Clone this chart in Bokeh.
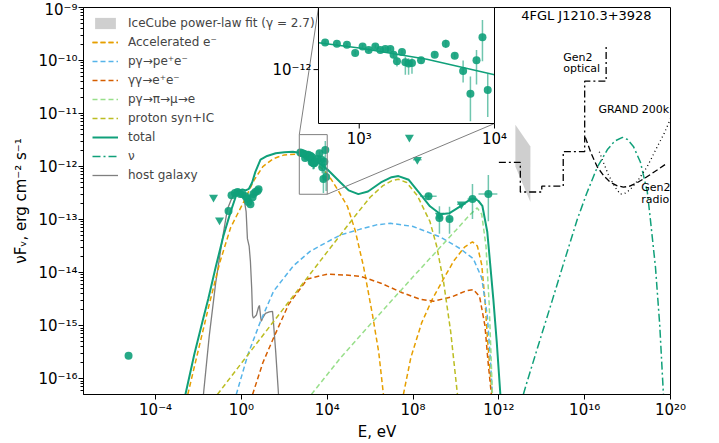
import numpy as np
from bokeh.plotting import figure
from bokeh.models import (Range1d, LogScale, FixedTicker, CustomJSTickFormatter,
                          Legend, LegendItem)
from bokeh.embed import file_html
from bokeh.resources import INLINE
from bokeh.core.properties import value

# ---------------- data: log10(E / eV), log10(nuFnu / erg cm^-2 s^-1) ----------------
TOTAL_LOGE = [-2.61, -2.2, -1.8, -1.54, -1.2, -0.84, -0.5, -0.25, -0.1, 0.05, 0.2, 0.35, 0.5, 0.65,
              0.89, 1.2, 1.6, 2.0, 2.4, 2.7, 3.0, 3.5, 4.0, 4.62, 5.0, 5.45, 5.9, 6.5, 7.0, 7.32,
              7.8, 8.3, 8.79, 9.28, 9.7, 10.2, 10.67, 10.85, 11.05, 11.23, 11.46, 11.74, 11.9, 12.07]
TOTAL_LOGF = [-16.3, -15.55, -14.9, -14.49, -13.9, -13.31, -12.85, -12.55, -12.45, -12.43, -12.45,
              -12.42, -12.3, -12.1, -11.87, -11.8, -11.75, -11.73, -11.72, -11.74, -11.79, -11.9,
              -12.05, -12.3, -12.45, -12.52, -12.47, -12.3, -12.2, -12.18, -12.25, -12.5, -12.75,
              -12.9, -12.88, -12.75, -12.62, -12.6, -12.65, -12.74, -13.23, -14.49, -15.3, -16.3]

SYN_E_LOGE = [-2.5, -2.0, -1.5, -1.0, -0.5, 0.1, 0.6, 1.0, 1.5, 2.0, 2.5, 3.0, 3.5, 3.87, 4.2,
              4.52, 4.94, 5.3, 5.7, 6.11, 6.4, 6.62]
SYN_E_LOGF = [-16.3, -15.45, -14.6, -13.8, -13.15, -12.67, -12.25, -12.0, -11.85, -11.78, -11.77,
              -11.83, -11.95, -12.08, -12.25, -12.46, -12.75, -13.2, -13.9, -14.8, -15.5, -16.3]
IC_E_LOGE = [7.55, 7.9, 8.4, 8.9, 9.42, 9.9, 10.4, 10.77, 11.0, 11.2, 11.35, 11.46, 11.58, 11.68]
IC_E_LOGF = [-16.3, -15.6, -14.95, -14.5, -14.12, -13.78, -13.52, -13.42, -13.5, -13.85, -14.5,
             -15.2, -15.8, -16.3]

BH_LOGE = [-0.24, 0.3, 0.89, 1.5, 2.43, 3.2, 4.01, 4.62, 5.55, 6.3, 6.95, 8.0, 9.28, 10.2, 10.81,
           11.2, 11.46, 11.6, 11.7]
BH_LOGF = [-16.3, -15.55, -14.92, -14.35, -13.87, -13.6, -13.42, -13.29, -13.18, -13.1, -13.07,
           -13.13, -13.33, -13.55, -13.74, -14.1, -14.81, -15.6, -16.3]

GG_LOGE = [0.52, 1.0, 1.49, 2.2, 3.08, 4.0, 5.0, 5.55, 6.5, 7.5, 8.3, 8.95, 9.8, 10.5, 10.81, 11.1,
           11.35, 11.5, 11.65]
GG_LOGF = [-16.3, -15.7, -15.24, -14.6, -14.12, -14.03, -14.05, -14.07, -14.2, -14.38, -14.5,
           -14.54, -14.46, -14.34, -14.32, -14.45, -15.0, -15.7, -16.3]

PI_LOGE = [3.26, 4.62, 6.0, 8.0, 10.0, 10.6, 10.99, 11.2, 11.4, 11.55, 11.7]
PI_LOGF = [-16.3, -15.61, -14.98, -14.08, -13.2, -12.93, -12.78, -12.9, -13.5, -14.6, -16.3]

P_LOGE = [-1.12, 0.0, 2.0, 4.0, 5.4, 6.0, 6.6, 7.0, 7.32, 7.7, 8.2, 8.79, 9.1, 9.42, 9.75, 10.07]
P_LOGF = [-16.3, -15.71, -14.66, -13.61, -12.88, -12.58, -12.36, -12.27, -12.24, -12.3, -12.55,
          -13.04, -13.5, -14.17, -15.1, -16.3]

NU_LOGE = [13.14, 13.33, 14.0, 14.5, 15.0, 15.66, 16.1, 16.59, 17.06, 17.4, 17.76, 18.0, 18.27,
           18.6, 18.92, 19.06, 19.3, 19.5, 19.67]
NU_LOGF = [-16.3, -16.04, -15.16, -14.51, -13.85, -12.99, -12.5, -12.01, -11.68, -11.52, -11.45,
           -11.49, -11.62, -11.92, -12.48, -12.99, -13.9, -15.0, -16.3]

HOST_LOGE = [-1.77, -1.5, -1.2, -0.9, -0.65, -0.45, -0.3, -0.14, 0.0, 0.12, 0.22, 0.28, 0.36, 0.42,
             0.48, 0.52, 0.56, 0.70, 0.80, 0.84, 0.90, 0.93, 1.0, 1.12, 1.3, 1.45, 1.49, 1.6, 1.73]
HOST_LOGF = [-16.3, -15.2, -14.2, -13.4, -12.8, -12.6, -12.5, -12.43, -12.48, -12.6, -12.85,
             -13.36, -13.5, -13.79, -14.3, -14.81, -14.86, -14.8, -14.65, -14.62, -14.85, -14.92,
             -14.85, -14.77, -14.74, -14.73, -14.92, -15.5, -16.3]

ICECUBE_LOGE = [12.77, 13.47]
ICECUBE_UPPER_LOGF = [-11.21, -11.62]
ICECUBE_LOWER_LOGF = [-12.0, -12.67]

GEN2_OPT_EDGES_LOGE = [12, 13, 14, 15, 16, 17]
GEN2_OPT_LOGF = [-11.92, -12.48, -12.37, -11.72, -10.39]
GEN2_OPT_END_LOGF = -9.71

GEN2_RAD_LOGE = [16.03, 16.3, 16.59, 16.9, 17.2, 17.5, 17.8, 18.1, 18.46, 18.8, 19.06, 19.4, 19.76]
GEN2_RAD_LOGF = [-11.45, -11.75, -12.01, -12.18, -12.3, -12.36, -12.39, -12.37, -12.3, -12.22,
                 -12.15, -12.06, -11.96]

GRAND_LOGE = [16.68, 16.9, 17.1, 17.4, 17.66, 17.9, 18.13, 18.5, 18.92, 19.39, 19.7, 20.0]
GRAND_LOGF = [-11.72, -11.95, -12.15, -12.38, -12.52, -12.5, -12.43, -12.25, -12.0, -11.62,
              -11.38, -11.1]

# measurements
RADIO_LOGE = [-5.26]
RADIO_LOGF = [-15.57]

OPT_LOGE = [-0.60, -0.46, -0.30, -0.18, -0.05, 0.05, 0.19, 0.28, 0.33, 0.42, 0.52, 0.56, 0.65,
            0.75, 0.80]
OPT_LOGF = [-12.84, -12.54, -12.50, -12.48, -12.52, -12.52, -12.56, -12.61, -12.67, -12.71,
            -12.58, -12.52, -12.48, -12.46, -12.43]

XR_LOGE = [2.748, 2.835, 2.909, 2.970, 3.025, 3.07, 3.119, 3.156, 3.193, 3.23, 3.254, 3.279, 3.316,
           3.341, 3.365, 3.39, 3.457, 3.558, 3.64, 3.706, 3.768, 3.822, 3.867, 3.911, 3.95]
XR_LOGF = [-11.737, -11.75, -11.76, -11.84, -11.776, -11.81, -11.776, -11.81, -11.80, -11.80,
           -11.856, -11.92, -11.83, -11.93, -11.94, -11.936, -11.91, -11.856, -11.75, -11.865,
           -12.013, -12.234, -11.91, -11.686, -12.199]
XR_LO = [-11.757, -11.77, -11.78, -11.86, -11.796, -11.83, -11.796, -11.83, -11.82, -11.82, -11.89,
         -11.97, -11.85, -12.05, -12.05, -12.04, -11.94, -11.88, -11.79, -11.89, -12.125, -12.50,
         -12.144, -11.92, -12.46]
XR_HI = [-11.717, -11.73, -11.74, -11.82, -11.756, -11.79, -11.756, -11.79, -11.78, -11.78, -11.83,
         -11.875, -11.81, -11.875, -11.89, -11.89, -11.88, -11.83, -11.71, -11.84, -11.913, -12.067,
         -11.81, -11.52, -12.04]

GAM_LOGE = [8.72, 9.23, 9.70, 10.77, 11.51]
GAM_LOGF = [-12.56, -12.97, -12.99, -12.61, -12.52]
GAM_LO = [-12.62, -13.27, -13.27, -12.99, -13.03]
GAM_HI = [-12.50, -12.75, -12.76, -12.33, -12.16]
GAM_XLO = [8.33, 9.05, 9.55, 10.54, 11.05]
GAM_XHI = [9.1, 9.4, 9.85, 11.0, 11.93]

UL_LOGE = [-1.30, -1.02, 7.83, 8.20, 9.23, 10.25]
UL_LOGF = [-12.58, -13.01, -11.45, -11.87, -12.92, -12.71]
UL_XLO = [-1.30, -1.02, 7.83, 8.0, 9.23, 10.05]
UL_XHI = [-1.30, -1.02, 7.83, 8.4, 9.23, 10.45]

# axes limits (log10)
X_LIM = (-7.36, 20.0)
Y_LIM = (-16.30, -9.0)
INSET_X_LIM = (np.log10(500.0), 4.0)
INSET_Y_LIM = (np.log10(3e-13), np.log10(4e-12))

# ---------------- styling ----------------
TEAL = "#10A07A"
ORANGE = "#E69F00"
SKY = "#56B4E9"
VERM = "#D55E00"
LGREEN = "#98DF8A"
OLIVE = "#BCBD22"
GRAY = "#7F7F7F"
FONT = "DejaVu Sans"

BORDER_L, BORDER_R, BORDER_T, BORDER_B = 83, 45, 7, 49
FRAME_W, FRAME_H = 587, 387
# inset rectangle inside the frame, in pixels from frame left / top
INSET_L, INSET_R, INSET_T, INSET_B = 235, 411, 0, 116


def P(a):
    return 10 ** np.asarray(a, dtype=float)


p = figure(width=BORDER_L + FRAME_W + BORDER_R, height=BORDER_T + FRAME_H + BORDER_B,
           x_axis_type="log", y_axis_type="log",
           x_range=Range1d(10 ** X_LIM[0], 10 ** X_LIM[1]),
           y_range=Range1d(10 ** Y_LIM[0], 10 ** Y_LIM[1]),
           output_backend="svg", toolbar_location=None,
           min_border_left=BORDER_L, min_border_right=BORDER_R,
           min_border_top=BORDER_T, min_border_bottom=BORDER_B)
p.xgrid.visible = False
p.ygrid.visible = False
p.outline_line_color = "black"
p.outline_line_alpha = 1.0
p.background_fill_color = "white"

# extra ranges for the inset (so that the inset limits fall onto the inset rectangle)
ixpp = (INSET_X_LIM[1] - INSET_X_LIM[0]) / (INSET_R - INSET_L)
iypp = (INSET_Y_LIM[1] - INSET_Y_LIM[0]) / (INSET_B - INSET_T)
ix0 = INSET_X_LIM[0] - INSET_L * ixpp
ix1 = INSET_X_LIM[1] + (FRAME_W - INSET_R) * ixpp
iy1 = INSET_Y_LIM[1] + INSET_T * iypp
iy0 = INSET_Y_LIM[0] - (FRAME_H - INSET_B) * iypp
p.extra_x_ranges = {"ix": Range1d(10 ** ix0, 10 ** ix1)}
p.extra_y_ranges = {"iy": Range1d(10 ** iy0, 10 ** iy1)}
p.extra_x_scales = {"ix": LogScale()}
p.extra_y_scales = {"iy": LogScale()}


def inset_to_main(lx, ly):
    fx = (lx - ix0) / (ix1 - ix0)
    fy = (ly - iy0) / (iy1 - iy0)
    return X_LIM[0] + fx * (X_LIM[1] - X_LIM[0]), Y_LIM[0] + fy * (Y_LIM[1] - Y_LIM[0])


sup_js = """
const s = {'-':'\u207b','0':'\u2070','1':'\u00b9','2':'\u00b2','3':'\u00b3','4':'\u2074',
           '5':'\u2075','6':'\u2076','7':'\u2077','8':'\u2078','9':'\u2079'};
const e = Math.round(Math.log10(tick));
return '10' + String(e).split('').map(c => s[c]).join('');
"""
fmt = CustomJSTickFormatter(code=sup_js)

p.xaxis.ticker = FixedTicker(ticks=[10.0 ** k for k in range(-4, 21, 4)], minor_ticks=[])
p.yaxis.ticker = FixedTicker(ticks=[10.0 ** k for k in range(-16, -8)],
                             minor_ticks=[m * 10.0 ** k for k in range(-17, -9) for m in range(2, 10)])
for ax in (p.xaxis, p.yaxis):
    ax.formatter = fmt
    ax.major_label_text_font = FONT
    ax.major_label_text_font_size = "15px"
    ax.major_label_text_color = "black"
    ax.axis_label_text_font = FONT
    ax.axis_label_text_font_size = "15px"
    ax.axis_label_text_font_style = "normal"
    ax.axis_label_text_color = "black"
    ax.axis_line_color = "black"
    ax.major_tick_line_color = "black"
    ax.minor_tick_line_color = "black"
    ax.major_tick_in = 0
    ax.major_tick_out = 5
    ax.minor_tick_in = 0
    ax.minor_tick_out = 3
    ax.major_label_standoff = 1
    ax.axis_label_standoff = 1
p.xaxis.axis_label = "E, eV"
p.yaxis.axis_label = "\u03bdF\u1d65, erg cm\u207b\u00b2 s\u207b\u00b9"
p.yaxis.axis_label_standoff = 5

# ---------------- model curves ----------------
r_ice = p.varea(x=P(ICECUBE_LOGE), y1=P(ICECUBE_LOWER_LOGF), y2=P(ICECUBE_UPPER_LOGF),
                fill_color="#BBBBBB", fill_alpha=0.7)

host_r = p.line(P(HOST_LOGE), P(HOST_LOGF), line_color=GRAY, line_width=1.3)
dash = "5 3"
syn_r = p.line(P(SYN_E_LOGE), P(SYN_E_LOGF), line_color=ORANGE, line_width=1.5, line_dash=dash)
ic_r = p.line(P(IC_E_LOGE), P(IC_E_LOGF), line_color=ORANGE, line_width=1.5, line_dash=dash)
bh_r = p.line(P(BH_LOGE), P(BH_LOGF), line_color=SKY, line_width=1.5, line_dash=dash)
gg_r = p.line(P(GG_LOGE), P(GG_LOGF), line_color=VERM, line_width=1.5, line_dash=dash)
pi_r = p.line(P(PI_LOGE), P(PI_LOGF), line_color=LGREEN, line_width=1.5, line_dash=dash)
pr_r = p.line(P(P_LOGE), P(P_LOGF), line_color=OLIVE, line_width=1.5, line_dash=dash)
tot_r = p.line(P(TOTAL_LOGE), P(TOTAL_LOGF), line_color=TEAL, line_width=2)
nu_r = p.line(P(NU_LOGE), P(NU_LOGF), line_color=TEAL, line_width=1.5, line_dash="8 3 2 3")

# Gen2 optical step curve
sx, sy = [], []
for i, v in enumerate(GEN2_OPT_LOGF):
    sx += [GEN2_OPT_EDGES_LOGE[i], GEN2_OPT_EDGES_LOGE[i + 1]]
    sy += [v, v]
sx.append(GEN2_OPT_EDGES_LOGE[-1])
sy.append(GEN2_OPT_END_LOGF)
p.line(P(sx), P(sy), line_color="black", line_width=1.3, line_dash="7 3 2 3")
p.line(P(GEN2_RAD_LOGE), P(GEN2_RAD_LOGF), line_color="black", line_width=1.3, line_dash="6 3")
p.line(P(GRAND_LOGE), P(GRAND_LOGF), line_color="black", line_width=1.3, line_dash="1 3")


# ---------------- measurements ----------------
def draw_points(inset=False):
    kw = dict(x_range_name="ix", y_range_name="iy") if inset else {}
    p.segment(P(XR_LOGE), P(XR_LO), P(XR_LOGE), P(XR_HI), line_color=TEAL, line_alpha=0.6,
              line_width=1.5, **kw)
    p.scatter(P(XR_LOGE), P(XR_LOGF), size=8, marker="circle", fill_color=TEAL, fill_alpha=0.9,
              line_color=None, **kw)


p.segment(P(GAM_LOGE), P(GAM_LO), P(GAM_LOGE), P(GAM_HI), line_color=TEAL, line_alpha=0.6, line_width=1.5)
p.segment(P(GAM_XLO), P(GAM_LOGF), P(GAM_XHI), P(GAM_LOGF), line_color=TEAL, line_alpha=0.6, line_width=1.5)
p.segment(P(UL_XLO), P(UL_LOGF), P(UL_XHI), P(UL_LOGF), line_color=TEAL, line_alpha=0.6, line_width=1.5)
p.scatter(P(RADIO_LOGE + OPT_LOGE + GAM_LOGE), P(RADIO_LOGF + OPT_LOGF + GAM_LOGF), size=8,
          marker="circle", fill_color=TEAL, fill_alpha=0.9, line_color=None)
p.scatter(P(UL_LOGE), P(UL_LOGF), size=9, marker="inverted_triangle", fill_color=TEAL,
          fill_alpha=0.9, line_color=None)
draw_points()

# zoom box and connectors
p.quad(left=10 ** INSET_X_LIM[0], right=10 ** INSET_X_LIM[1], bottom=10 ** INSET_Y_LIM[0],
       top=10 ** INSET_Y_LIM[1], fill_alpha=0, line_color=GRAY, line_width=1)
c1 = inset_to_main(INSET_X_LIM[0], INSET_Y_LIM[1])
c2 = inset_to_main(INSET_X_LIM[1], INSET_Y_LIM[0])
p.segment(x0=P([INSET_X_LIM[0], INSET_X_LIM[1]]), y0=P([INSET_Y_LIM[1], INSET_Y_LIM[0]]),
          x1=P([c1[0], c2[0]]), y1=P([c1[1], c2[1]]), line_color=GRAY, line_width=1)

# ---------------- inset ----------------
ikw = dict(x_range_name="ix", y_range_name="iy")
p.quad(left=10 ** INSET_X_LIM[0], right=10 ** INSET_X_LIM[1], bottom=10 ** INSET_Y_LIM[0],
       top=10 ** INSET_Y_LIM[1], fill_color="white", line_color=None, **ikw)
tl = np.asarray(TOTAL_LOGE)
tf = np.asarray(TOTAL_LOGF)
mask = (tl > INSET_X_LIM[0]) & (tl < INSET_X_LIM[1])
itx = np.concatenate([[INSET_X_LIM[0]], tl[mask], [INSET_X_LIM[1]]])
ity = np.interp(itx, tl, tf)
p.line(P(itx), P(ity), line_color=TEAL, line_width=1.5, **ikw)
draw_points(inset=True)
p.quad(left=10 ** INSET_X_LIM[0], right=10 ** INSET_X_LIM[1], bottom=10 ** INSET_Y_LIM[0],
       top=10 ** INSET_Y_LIM[1], fill_alpha=0, line_color="black", line_width=1, **ikw)
p.ray(x=[1e3, 1e4], y=[10 ** INSET_Y_LIM[0]] * 2, length=5, length_units="screen",
      angle=-np.pi / 2, line_color="black", **ikw)
p.ray(x=[10 ** INSET_X_LIM[0]], y=[1e-12], length=5, length_units="screen", angle=np.pi,
      line_color="black", **ikw)
p.text(x=[1e3, 1e4], y=[10 ** INSET_Y_LIM[0]] * 2, text=["10\u00b3", "10\u2074"], y_offset=6,
       text_align="center", text_baseline="top", text_font=value(FONT), text_font_size="15px",
       text_color="black", **ikw)
p.text(x=[10 ** INSET_X_LIM[0]], y=[1e-12], text=["10\u207b\u00b9\u00b2"], x_offset=-7,
       text_align="right", text_baseline="middle", text_font=value(FONT), text_font_size="15px",
       text_color="black", **ikw)

# ---------------- annotations ----------------
ANN_TEXT = ["4FGL J1210.3+3928", "Gen2", "optical", "GRAND 200k", "Gen2", "radio"]
ANN_LOGE = [16.08, 15.0, 15.0, 16.64, 18.64, 18.64]
ANN_LOGF = [-9.15, -9.94, -10.16, -10.93, -12.39, -12.63]
ANN_ALIGN = ["center", "left", "left", "left", "left", "left"]
ANN_SIZE = ["13px", "11px", "11px", "11px", "11px", "11px"]
for t, lx, ly, al, fs in zip(ANN_TEXT, ANN_LOGE, ANN_LOGF, ANN_ALIGN, ANN_SIZE):
    p.text(x=[10 ** lx], y=[10 ** ly], text=[t], text_align=al, text_baseline="middle",
           text_font=value(FONT), text_font_size=fs, text_color="black")

# ---------------- legend ----------------
items = [
    LegendItem(label="IceCube power-law fit (\u03b3 = 2.7)", renderers=[r_ice]),
    LegendItem(label="Accelerated e\u207b", renderers=[syn_r, ic_r]),
    LegendItem(label="p\u03b3\u2192pe\u207ae\u207b", renderers=[bh_r]),
    LegendItem(label="\u03b3\u03b3\u2192e\u207ae\u207b", renderers=[gg_r]),
    LegendItem(label="p\u03b3\u2192\u03c0\u2192\u03bc\u2192e", renderers=[pi_r]),
    LegendItem(label="proton syn+IC", renderers=[pr_r]),
    LegendItem(label="total", renderers=[tot_r]),
    LegendItem(label="\u03bd", renderers=[nu_r]),
    LegendItem(label="host galaxy", renderers=[host_r]),
]
legend = Legend(items=items, location="top_left", border_line_alpha=0, background_fill_alpha=0,
                label_text_font=FONT, label_text_font_size="12px", glyph_width=26, glyph_height=14,
                label_height=14, spacing=5, padding=9, margin=0, label_standoff=10)
p.add_layout(legend)

open("out.html", "w").write(file_html(p, INLINE))
